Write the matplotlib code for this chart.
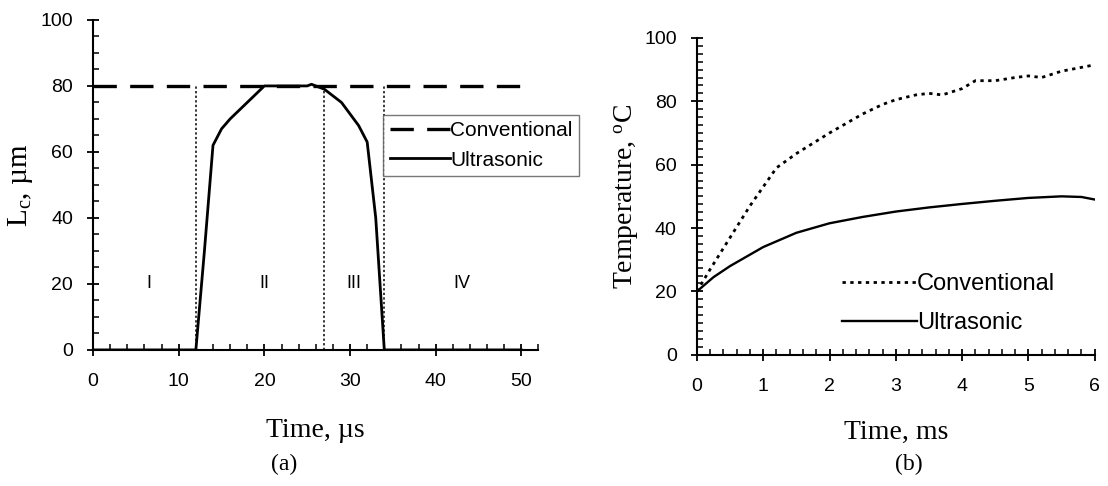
import matplotlib
matplotlib.use('Agg')
import matplotlib.pyplot as plt
from matplotlib.ticker import MultipleLocator

plt.rcParams['font.family'] = 'Liberation Sans'
plt.rcParams['mathtext.fontset'] = 'custom'
plt.rcParams['mathtext.rm'] = 'Liberation Serif'
plt.rcParams['mathtext.it'] = 'Liberation Serif:italic'

# (a) contact length vs time
conv_a_t = [0, 50]
conv_a_l = [80, 80]
ultra_a_t = [0, 12, 13, 14, 15, 16, 18, 20, 25, 25.5, 27, 29, 31, 32, 33, 34, 50]
ultra_a_l = [0, 0, 30, 62, 67, 70, 75, 80, 80, 80.5, 79, 75, 68, 63, 40, 0, 0]
stage_bounds = [12, 27, 34]
stage_names = ['I', 'II', 'III', 'IV']
stage_x = [6.5, 20, 30.5, 43]

# (b) temperature vs time
conv_b_t = [0, 0.2, 0.5, 0.8, 1.0, 1.2, 1.5, 2.0, 2.5, 2.8, 3.0, 3.3, 3.5, 3.7,
            4.0, 4.2, 4.5, 4.8, 5.0, 5.2, 5.5, 6.0]
conv_b_T = [20, 27, 37, 47, 53, 59, 63.5, 70, 76, 79, 80.5, 82, 82.5, 82,
            84, 86.5, 86.5, 87.5, 88, 87.5, 89.5, 91.5]
ultra_b_t = [0, 0.25, 0.5, 1.0, 1.5, 2.0, 2.5, 3.0, 3.5, 4.0, 4.5, 5.0, 5.5, 5.8, 6.0]
ultra_b_T = [20, 24.5, 28, 34, 38.5, 41.5, 43.5, 45.2, 46.5, 47.6, 48.6, 49.5, 50, 49.8, 49]

fig = plt.figure(figsize=(11.08, 4.86), dpi=100)
ax1 = fig.add_axes([0.084, 0.280, 0.402, 0.679])
ax2 = fig.add_axes([0.629, 0.270, 0.359, 0.652])

serif = 'Liberation Serif'

for ax in (ax1, ax2):
    ax.spines['top'].set_visible(False)
    ax.spines['right'].set_visible(False)
    ax.spines['left'].set_linewidth(1.5)
    ax.spines['bottom'].set_linewidth(1.5)
    ax.tick_params(which='major', direction='inout', length=9, width=1.3, labelsize=14)
    ax.tick_params(which='minor', direction='in', length=4, width=1.1)
    ax.tick_params(axis='x', pad=12)
    ax.tick_params(axis='y', pad=10)

# ---- panel (a)
for xb in stage_bounds:
    ax1.plot([xb, xb], [0, 80], color='black', lw=1.1, ls=(0, (1.5, 1.5)))
ax1.plot(conv_a_t, conv_a_l, color='black', lw=2.4, dashes=(7, 4),
         label='Conventional')
ax1.plot(ultra_a_t, ultra_a_l, color='black', lw=2.0, label='Ultrasonic')
for name, xs in zip(stage_names, stage_x):
    ax1.text(xs, 20, name, ha='center', va='center', fontsize=13)

ax1.set_xlim(0, 52)
ax1.set_ylim(0, 100)
ax1.set_xticks([0, 10, 20, 30, 40, 50])
ax1.set_yticks([0, 20, 40, 60, 80, 100])
ax1.xaxis.set_minor_locator(MultipleLocator(2))
ax1.yaxis.set_minor_locator(MultipleLocator(5))
ax1.set_xlabel('Time, µs', family=serif, fontsize=20, labelpad=20)
ax1.set_ylabel(r'L$_\mathregular{c}$, µm', family=serif, fontsize=21, labelpad=4)
leg1 = ax1.legend(loc='upper left', bbox_to_anchor=(0.652, 0.712), fontsize=15,
                  frameon=True, fancybox=False, edgecolor='#555555',
                  handlelength=2.9, handletextpad=0.0, borderpad=0.3,
                  labelspacing=0.5, borderaxespad=0)
leg1.get_frame().set_linewidth(1.0)

# ---- panel (b)
ax2.plot(conv_b_t, conv_b_T, color='black', lw=2.0, ls=(0, (1.2, 1.6)),
         label='Conventional')
ax2.plot(ultra_b_t, ultra_b_T, color='black', lw=1.7, label='Ultrasonic')
ax2.set_xlim(0, 6)
ax2.set_ylim(0, 100)
ax2.set_xticks(range(0, 7))
ax2.set_yticks([0, 20, 40, 60, 80, 100])
ax2.xaxis.set_minor_locator(MultipleLocator(0.2))
ax2.yaxis.set_minor_locator(MultipleLocator(2.5))
ax2.set_xlabel('Time, ms', family=serif, fontsize=20, labelpad=18)
ax2.set_ylabel(r'Temperature, $^\mathregular{o}$C', family=serif, fontsize=20, labelpad=2)
ax2.legend(loc='upper left', bbox_to_anchor=(0.34, 0.287), fontsize=17,
           frameon=False, handlelength=3.2, handletextpad=0.0,
           labelspacing=0.7, borderaxespad=0)

fig.text(0.256, 0.045, '(a)', family=serif, fontsize=17, ha='center', va='center')
fig.text(0.820, 0.045, '(b)', family=serif, fontsize=17, ha='center', va='center')

fig.savefig('out.png', dpi=100)
